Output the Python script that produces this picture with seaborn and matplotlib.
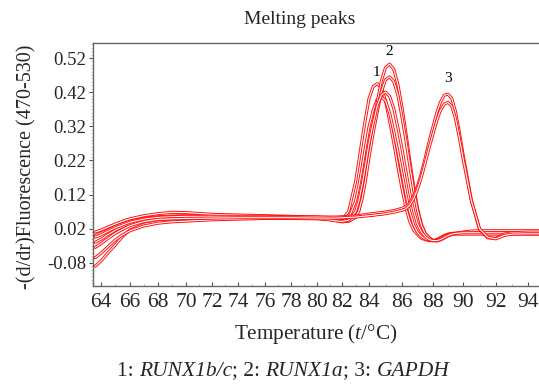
import numpy as np
import pandas as pd
import matplotlib
matplotlib.use("Agg")
import matplotlib.pyplot as plt
import matplotlib.patheffects as pe
from matplotlib.ticker import MultipleLocator, FixedLocator
import seaborn as sns

# ---- data ----
temperature = [63.6, 64, 64.5, 65, 65.5, 66, 67, 68, 69, 70, 72, 74, 76, 78, 80, 81, 81.5, 82, 82.5,
               83, 83.25, 83.5, 83.75, 84, 84.25, 84.5, 84.75, 85, 85.25, 85.5, 85.75, 86, 86.25, 86.5,
               86.75, 87, 87.25, 87.5, 87.75, 88, 88.25, 88.5, 88.75, 89, 89.25, 89.5, 89.75, 90,
               90.5, 91, 91.5, 92, 92.5, 93, 94, 95]

runx1bc_a = [0.000, 0.007, 0.017, 0.027, 0.035, 0.042, 0.050, 0.055, 0.057, 0.058, 0.058, 0.057, 0.056,
             0.055, 0.052, 0.047, 0.044, 0.046, 0.071,
             0.157, 0.218, 0.284, 0.345, 0.401, 0.436, 0.445, 0.433, 0.395, 0.336, 0.272, 0.202, 0.137,
             0.081, 0.041, 0.016, 0.003, -0.008, -0.012, -0.015, -0.015, -0.012, -0.006, 0.000, 0.004,
             0.006, 0.007, 0.008, 0.009,
             0.010, 0.010, 0.010, 0.010, 0.010, 0.010, 0.010, 0.010]
runx1bc_b = [-0.090, -0.075, -0.050, -0.027, -0.002, 0.016, 0.033, 0.040, 0.043, 0.045, 0.048, 0.050, 0.051,
             0.051, 0.050, 0.047, 0.045, 0.044, 0.051,
             0.100, 0.146, 0.202, 0.262, 0.318, 0.367, 0.399, 0.406, 0.395, 0.359, 0.306, 0.246, 0.182,
             0.121, 0.070, 0.032, 0.009, -0.003, -0.010, -0.014, -0.015, -0.013, -0.008, -0.002, 0.003,
             0.005, 0.006, 0.006, 0.006,
             0.006, 0.006, 0.006, 0.006, 0.006, 0.006, 0.006, 0.006]
runx1a_a = [0.010, 0.016, 0.025, 0.034, 0.042, 0.049, 0.058, 0.064, 0.068, 0.067, 0.062, 0.060, 0.058,
            0.056, 0.053, 0.049, 0.046, 0.043, 0.042,
            0.054, 0.075, 0.116, 0.175, 0.245, 0.321, 0.390, 0.453, 0.492, 0.502, 0.487, 0.443, 0.375,
            0.301, 0.220, 0.145, 0.080, 0.033, 0.006, -0.006, -0.015, -0.015, -0.012, -0.006, 0.000,
            0.004, 0.006, 0.007, 0.010,
            0.013, 0.014, 0.014, 0.014, 0.014, 0.014, 0.014, 0.014]
runx1a_b = [-0.020, -0.011, 0.003, 0.016, 0.026, 0.034, 0.045, 0.051, 0.054, 0.055, 0.056, 0.056, 0.055,
            0.054, 0.051, 0.047, 0.044, 0.040, 0.042,
            0.053, 0.072, 0.110, 0.164, 0.229, 0.299, 0.362, 0.421, 0.456, 0.465, 0.451, 0.411, 0.347,
            0.279, 0.204, 0.134, 0.074, 0.030, 0.005, -0.007, -0.015, -0.016, -0.013, -0.007, -0.001,
            0.003, 0.004, 0.004, 0.004,
            0.004, 0.004, 0.004, 0.004, 0.004, 0.004, 0.004, 0.004]
runx1a_c = [-0.065, -0.052, -0.032, -0.013, 0.002, 0.014, 0.028, 0.036, 0.040, 0.042, 0.046, 0.048, 0.050,
            0.050, 0.049, 0.046, 0.043, 0.041, 0.045,
            0.069, 0.102, 0.150, 0.208, 0.270, 0.328, 0.380, 0.412, 0.420, 0.408, 0.372, 0.316, 0.254,
            0.188, 0.125, 0.072, 0.033, 0.010, -0.003, -0.012, -0.015, -0.015, -0.012, -0.006, 0.000,
            0.004, 0.006, 0.007, 0.008,
            0.008, 0.008, 0.008, 0.008, 0.008, 0.008, 0.008, 0.008]
gapdh_a = [-0.005, 0.002, 0.013, 0.023, 0.031, 0.039, 0.048, 0.053, 0.055, 0.056, 0.056, 0.056, 0.056,
           0.055, 0.055, 0.054, 0.054, 0.055, 0.056,
           0.057, 0.058, 0.060, 0.061, 0.063, 0.064, 0.066, 0.067, 0.069, 0.071, 0.073, 0.076, 0.080,
           0.084, 0.095, 0.116, 0.144, 0.182, 0.227, 0.275, 0.318, 0.359, 0.391, 0.411, 0.414,
           0.402, 0.363, 0.304, 0.238,
           0.105, 0.018, -0.007, -0.008, 0.004, 0.008, 0.010, 0.010]
gapdh_b = [-0.035, -0.024, -0.008, 0.007, 0.018, 0.029, 0.041, 0.047, 0.049, 0.050, 0.051, 0.052, 0.052,
           0.052, 0.051, 0.051, 0.051, 0.052, 0.053,
           0.054, 0.055, 0.056, 0.057, 0.058, 0.059, 0.061, 0.062, 0.064, 0.066, 0.068, 0.071, 0.074,
           0.078, 0.089, 0.108, 0.135, 0.171, 0.213, 0.257, 0.298, 0.336, 0.367, 0.385, 0.390,
           0.379, 0.342, 0.288, 0.226,
           0.103, 0.020, -0.005, -0.010, 0.000, 0.004, 0.005, 0.005]

curves = {"RUNX1b/c a": runx1bc_a, "RUNX1b/c b": runx1bc_b,
          "RUNX1a a": runx1a_a, "RUNX1a b": runx1a_b, "RUNX1a c": runx1a_c,
          "GAPDH a": gapdh_a, "GAPDH b": gapdh_b}

peak_labels = ["1", "2", "3"]
peak_label_x = [84.45, 85.25, 89.0]
peak_label_y = [0.479, 0.538, 0.459]

x_ticks = list(range(64, 95, 2))
y_ticks = [-0.08, 0.02, 0.12, 0.22, 0.32, 0.42, 0.52]

caption_parts = [("1: ", "normal"), ("RUNX1b/c", "italic"), ("; 2: ", "normal"),
                 ("RUNX1a", "italic"), ("; 3: ", "normal"), ("GAPDH", "italic")]

# layout: the reference's temperature axis is not evenly spaced; pixel position of each tick
tick_px = [101, 130, 158, 186, 212, 238, 265, 291, 317, 342, 369, 402, 433, 463, 496, 528]
scale_T = [60] + x_ticks + [98]
scale_px = [101 - 4 * 14.5] + tick_px + [528 + 4 * 16.0]


def fwd(t):
    return np.interp(t, scale_T, scale_px)


def inv(p):
    return np.interp(p, scale_px, scale_T)


# ---- plotting ----
sns.set_theme(style="white")
plt.rcParams["font.family"] = ["Liberation Serif", "DejaVu Serif"]
plt.rcParams["mathtext.fontset"] = "custom"
plt.rcParams["mathtext.rm"] = "Liberation Serif"
plt.rcParams["mathtext.it"] = "Liberation Serif:italic"

df = pd.concat([pd.DataFrame({"T": temperature, "v": vals, "curve": name})
                for name, vals in curves.items()], ignore_index=True)

fig = plt.figure(figsize=(5.39, 3.85), dpi=100)
ax = fig.add_axes([93 / 539, 1 - 286 / 385, 1 - 93 / 539, (286 - 43) / 385])
ax.set_xscale("function", functions=(fwd, inv))

red = "#ff1010"
sns.lineplot(data=df, x="T", y="v", hue="curve", palette=["white"] * len(curves),
             ax=ax, legend=False, linewidth=0.8, sort=False, estimator=None,
             path_effects=[pe.Stroke(linewidth=2.2, foreground=red), pe.Normal()])

for lab, lx, ly in zip(peak_labels, peak_label_x, peak_label_y):
    ax.text(lx, ly, lab, ha="center", va="center", fontsize=11, color="black")

ax.set_xlim(inv(93), inv(539))
ax.set_ylim(-0.148, 0.564)
ax.xaxis.set_major_locator(FixedLocator(x_ticks))
ax.xaxis.set_major_formatter(matplotlib.ticker.FuncFormatter(lambda v, p: f"{v:.0f}"))
ax.xaxis.set_minor_locator(FixedLocator([t + 1 for t in x_ticks]))
ax.set_yticks(y_ticks)
ax.set_yticklabels([f"{t:.2f}" for t in y_ticks])
ax.yaxis.set_minor_locator(MultipleLocator(0.01))
ax.tick_params(axis="x", which="major", direction="in", length=3, width=0.8, color="#555555",
               labelsize=15.5, pad=5, bottom=True)
ax.tick_params(axis="x", which="minor", direction="in", length=1.5, width=0.5, color="#999999", bottom=True)
ax.tick_params(axis="y", which="major", direction="out", length=3, width=0.8, color="#555555",
               labelsize=13.5, pad=2, left=True)
ax.tick_params(axis="y", which="minor", direction="out", length=1.2, width=0.4, color="#999999", left=True)
for s in ["left", "bottom", "top"]:
    ax.spines[s].set_color("#666666")
    ax.spines[s].set_linewidth(1.0)
ax.spines["right"].set_visible(False)
ax.set_xlabel("")
ax.set_ylabel("")

fig.text(300 / 539, 1 - 19 / 385, "Melting peaks", ha="center", va="center", fontsize=14)
fig.text(27 / 539, 1 - 167 / 385, "-(d/dr)Fluorescence (470-530)", rotation=90,
         ha="center", va="center", fontsize=14.5)
fig.text(316 / 539, 1 - 334 / 385, r"Temperature ($\it{t}$/°C)", ha="center", va="center", fontsize=15.3)

# caption with mixed upright / italic pieces, centred as a whole
renderer = fig.canvas.get_renderer()
pieces = []
for txt, style in caption_parts:
    t = fig.text(0, 1 - 371 / 385, txt, ha="left", va="center", fontsize=15.5, fontstyle=style)
    pieces.append(t)
widths = [p.get_window_extent(renderer).width for p in pieces]
total = sum(widths)
x0 = 283 - total / 2
for p, w in zip(pieces, widths):
    p.set_x(x0 / 539)
    x0 += w

fig.savefig("out.png", dpi=100)
